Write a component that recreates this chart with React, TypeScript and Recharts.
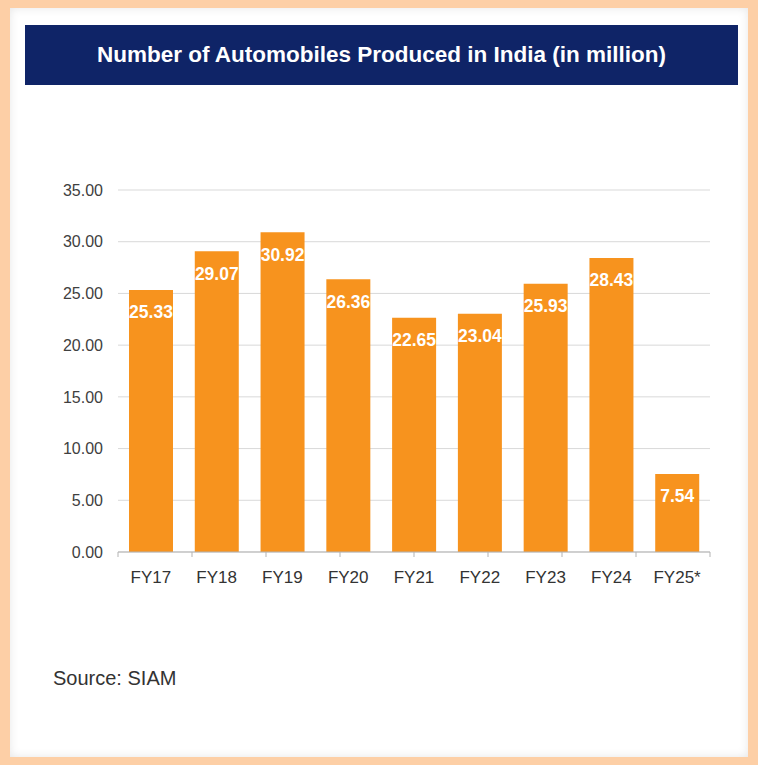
import React from 'react';
import { BarChart, Bar, XAxis, YAxis, CartesianGrid, LabelList } from 'recharts';

const categories = ['FY17', 'FY18', 'FY19', 'FY20', 'FY21', 'FY22', 'FY23', 'FY24', 'FY25*'];
const production = [25.33, 29.07, 30.92, 26.36, 22.65, 23.04, 25.93, 28.43, 7.54];
const yTicks = [0, 5, 10, 15, 20, 25, 30, 35];
const boundaryTicks = [0, 1, 2, 3, 4, 5, 6, 7, 8, 9];

const data = categories.map((c, i) => ({ name: c, value: production[i] }));

const FONT = '"Liberation Sans", Arial, Helvetica, sans-serif';

export default function App() {
  return (
    <div style={{ position: 'absolute', left: 0, top: 0, width: 758, height: 765, background: '#fdcfa6', fontFamily: FONT, overflow: 'hidden' }}>
      <div style={{ position: 'absolute', left: 10, top: 8, width: 738, height: 749, background: '#ffffff', boxShadow: 'inset 0 0 10px rgba(0,0,0,0.10)' }} />
      <div style={{ position: 'absolute', left: 25, top: 25, width: 713, height: 60, background: '#0f2467', color: '#ffffff', fontWeight: 'bold', fontSize: 22.5, display: 'flex', alignItems: 'center', justifyContent: 'center', fontFamily: FONT }}>
        Number of Automobiles Produced in India (in million)
      </div>
      <div style={{ position: 'absolute', left: 0, top: 0 }}>
        <BarChart width={758} height={620} data={data} margin={{ top: 190, right: 48, bottom: 18, left: 0 }}>
          <CartesianGrid horizontal vertical={false} stroke="#d9d9d9" xAxisId="b" />
          <XAxis xAxisId="a" type="number" domain={[0, 9]} ticks={boundaryTicks} allowDataOverflow height={1} tickFormatter={() => ''} tickSize={5} axisLine={{ stroke: '#b3b3b3' }} tickLine={{ stroke: '#b3b3b3' }} />
          <XAxis xAxisId="b" dataKey="name" type="category" height={49} axisLine={false} tickLine={false} tickSize={6} tickMargin={12} interval={0} tick={{ fill: '#333333', fontSize: 17, fontFamily: FONT }} />
          <YAxis domain={[0, 35]} ticks={yTicks} width={118} axisLine={false} tickLine={false} tickMargin={9} tickFormatter={(v: number) => v.toFixed(2)} tick={{ fill: '#404040', fontSize: 16, fontFamily: FONT }} />
          <Bar xAxisId="b" dataKey="value" fill="#f7931e" barSize={44} isAnimationActive={false}>
            <LabelList dataKey="value" position="insideTop" offset={16} fill="#ffffff" fontWeight="bold" fontSize={17.5} fontFamily={FONT} formatter={(v: number) => v.toFixed(2)} />
          </Bar>
        </BarChart>
      </div>
      <div style={{ position: 'absolute', left: 53, top: 668, fontSize: 20, lineHeight: '20px', color: '#333333', fontFamily: FONT }}>
        Source: SIAM
      </div>
    </div>
  );
}
